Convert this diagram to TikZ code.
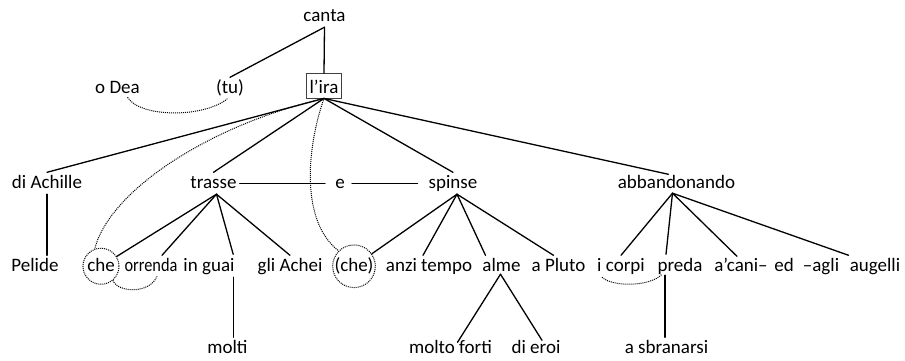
\documentclass[tikz,border=0pt]{standalone}
\usepackage{fontspec}
\setmainfont{Carlito}
\usetikzlibrary{calc}
\begin{document}
\begin{tikzpicture}[x=1pt,y=-1pt,
  word/.style={font=\fontsize{19}{23}\selectfont, inner xsep=1pt, inner ysep=2pt,
               text height=13.5pt, text depth=4pt, anchor=base},
  link/.style={line width=1.3pt, line cap=round},
  dots/.style={line width=1pt, dash pattern=on 1pt off 1pt},
  ring/.style={word, circle, draw, dots, inner sep=0pt}]
\useasboundingbox (0,0) rectangle (905,360);

% top levels
\node[word] (canta) at (324.5,21) {canta};
\node[word] (oDea) at (117.5,93) {o Dea};
\node[word] (tu) at (230,93) {(tu)};
\node[word, draw=black!75, line width=0.8pt, text height=18.5pt, inner xsep=3pt, inner ysep=1pt]
  (lira) at (324,93) {l’ira};

% second row
\node[word] (achille) at (47,188) {di Achille};
\node[word] (trasse) at (213.5,188) {trasse};
\node[word] (e) at (340,188) {e};
\node[word] (spinse) at (453,188) {spinse};
\node[word] (abb) at (676.5,188) {abbandonando};

% third row
\node[word] (pelide) at (35,271) {Pelide};
\node[ring, minimum size=36pt] (che) at (101,271) {che};
\node[word] (orrenda) at (151,271) {\scalebox{0.86}[1]{orrenda}};
\node[word] (inguai) at (209,271) {in guai};
\node[word] (achei) at (290,271) {gli Achei};
\node[ring, minimum size=42pt] (pche) at (354,271) {(che)};
\node[word] (anzi) at (429,271) {anzi tempo};
\node[word] (alme) at (501.5,271) {alme};
\node[word] (pluto) at (558.5,271) {a Pluto};
\node[word] (corpi) at (621,271) {i corpi};
\node[word] (preda) at (680,271) {preda};
\node[word] (cani) at (741,271) {a’cani–};
\node[word] (ed) at (784,271) {ed};
\node[word] (agli) at (821,271) {–agli};
\node[word] (augelli) at (875,271) {augelli};

% fourth row
\node[word] (molti) at (227.5,353) {molti};
\node[word] (forti) at (450.5,353) {molto forti};
\node[word] (eroi) at (536,353) {di eroi};
\node[word] (sbran) at (666.5,353) {a sbranarsi};

% branching points
\coordinate (tB) at ($(trasse.south)+(3,0)$);
\coordinate (sB) at ($(spinse.south)+(4,0)$);
\coordinate (aB) at ($(alme.south)+(-1,-3)$);
\coordinate (bB) at ($(abb.south)+(-4,-1)$);
\coordinate (gx) at ($(inguai.south east)+(-2.5,0)$);
\coordinate (pT) at ($(preda.north)+(-14,-1)$);
\coordinate (pS) at ($(preda.south)+(-15,-2)$);

% solid links
\draw[link] (canta.south) -- (tu.north);
\draw[link] (canta.south) -- (lira.north);
\draw[link] (lira.south) -- (achille.north);
\draw[link] (lira.south) -- (trasse.north);
\draw[link] (lira.south) -- (spinse.north);
\draw[link] (lira.south) -- ($(abb.north)+(-8,2)$);

\draw[link] ($(trasse.east)+(2,0)$) -- ($(e.west)+(-9,0)$);
\draw[link] ($(e.east)+(6,0)$) -- ($(spinse.west)+(-10,0)$);

\draw[link] (achille.south) -- (pelide.north -| achille.south);

\draw[link] (tB) -- (che);
\draw[link] (tB) -- ($(orrenda.north)+(11,0)$);
\draw[link] (tB) -- ($(inguai.north east)+(-2.5,-1)$);
\draw[link] (tB) -- (achei.north);
\draw[link] (gx) -- (gx |- molti.north);

\draw[link] (sB) -- (pche);
\draw[link] (sB) -- ($(anzi.north)+(-6,0)$);
\draw[link] (sB) -- ($(alme.north)+(-16,0)$);
\draw[link] (sB) -- ($(pluto.north)+(-5,0)$);

\draw[link] (aB) -- ($(forti.north)+(7,5)$);
\draw[link] (aB) -- ($(eroi.north)+(6,3)$);

\draw[link] (bB) -- (corpi.north);
\draw[link] (bB) -- (pT);
\draw[link] (bB) -- ($(cani.north)+(-4,1)$);
\draw[link] (bB) -- (augelli.north west);
\draw[link] (pS) -- (pS |- sbran.north);

% dotted coreference links
\draw[dots] ($(oDea.south)+(10,-2)$) .. controls (140,118) and (205,118) .. ($(tu.south)+(-2,-1)$);
\draw[dots] (lira.south) .. controls (210,125) and (110,190) .. (che.110);
\draw[dots] (lira.south) .. controls (306,150) and (301,222) .. (pche.135);
\draw[dots] (che.-50) .. controls (118,293) and (150,294) .. ($(orrenda.south)+(6,-1)$);
\draw[dots] ($(corpi.south)+(-19,0)$) .. controls (612,287) and (650,287) .. ($(preda.south)+(-18,-3)$);
\end{tikzpicture}
\end{document}
